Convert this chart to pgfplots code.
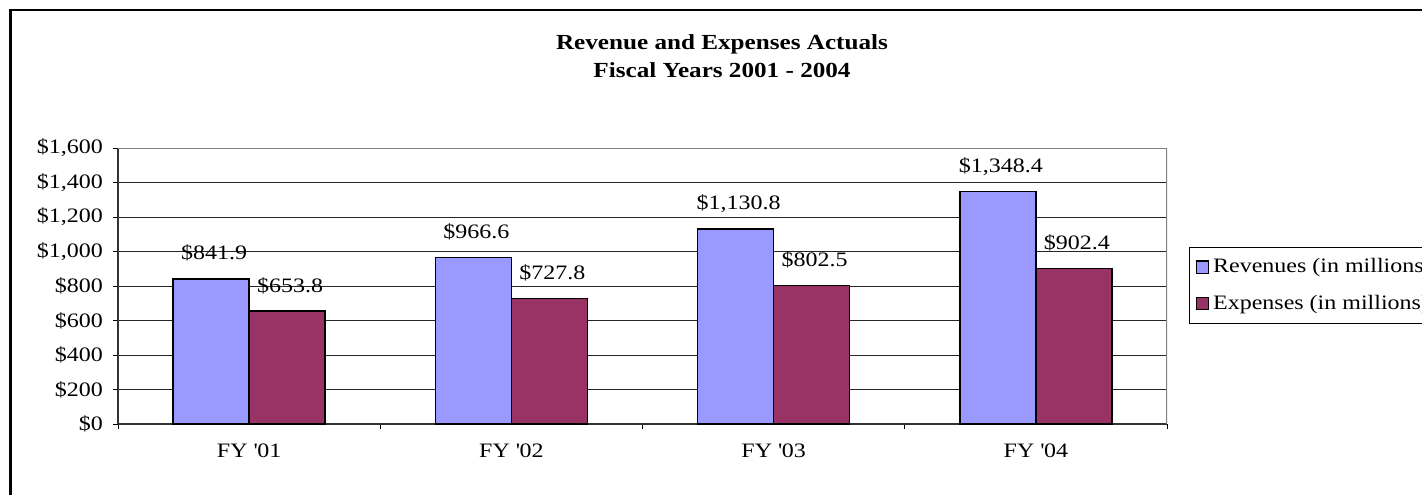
\documentclass[border=0pt]{standalone}
\usepackage{fontspec}
\setmainfont{Liberation Serif}[FakeStretch=1.17]
\usepackage{pgfplots}
\pgfplotsset{compat=1.18}
\definecolor{revcol}{HTML}{9999FF}
\definecolor{expcol}{HTML}{993366}
\newcommand{\chartfont}{\fontsize{10.25}{12}\selectfont}
\begin{document}
\begin{tikzpicture}
\begin{axis}[
    at={(59pt,35pt)}, anchor=south west,
    scale only axis, width=524.5pt, height=138pt,
    ybar=0pt, bar width=38pt,
    xmin=-0.5, xmax=3.5, ymin=0, ymax=1600,
    xtick={0,1,2,3},
    xticklabels={FY \textquotesingle01, FY \textquotesingle02, FY \textquotesingle03, FY \textquotesingle04},
    major x tick style={draw=none},
    minor xtick={-0.5,0.5,1.5,2.5,3.5},
    ytick={0,200,...,1600},
    tick align=outside, major tick length=2.5pt, minor tick length=2.5pt,
    tick style={black, line width=0.5pt},
    yticklabel={\$\pgfmathprintnumber[1000 sep={,},assume math mode=true]{\tick}},
    tick label style={font=\chartfont},
    xticklabel style={yshift=-4pt},
    yticklabel style={xshift=-1.5pt},
    axis lines*=left,
    axis line style={black!80, line width=0.6pt},
    ymajorgrids, grid style={black!85, line width=0.5pt},
    nodes near coords={\$\pgfmathprintnumber[fixed,fixed zerofill,precision=1,1000 sep={,},assume math mode=true]{\pgfplotspointmeta}},
    every node near coord/.append style={font=\chartfont, black, anchor=base, yshift=9.5pt, xshift=1.5pt},
    legend style={at={(1.021,0.641)}, anchor=north west, draw=black, line width=0.5pt,
        font=\chartfont, row sep=5.5pt, inner ysep=3.5pt, inner xsep=3pt},
    legend cell align=left,
    legend image code/.code={\draw[#1, draw=black, line width=0.6pt] (0pt,-3.1pt) rectangle (6.2pt,3.1pt);},
]
\addplot[fill=revcol, draw=black, line width=0.75pt] coordinates {
    (0, 841.9)
    (1, 966.6)
    (2, 1130.8)
    (3, 1348.4)
};
\addlegendentry{Revenues (in millions)}
\addplot[fill=expcol, draw=black, line width=0.75pt] coordinates {
    (0, 653.8)
    (1, 727.8)
    (2, 802.5)
    (3, 902.4)
};
\addlegendentry{Expenses (in millions)}
% gray plot-area border on top and right
\draw[gray, line width=0.75pt] (rel axis cs:0,1) -- (rel axis cs:1,1) -- (rel axis cs:1,0);
\end{axis}
\node[font=\bfseries\fontsize{10.75}{14}\selectfont, align=center] at (361pt,219pt)
    {Revenue and Expenses Actuals\\Fiscal Years 2001 - 2004};
\draw[line width=1.25pt] (5.25pt,-5pt) -- (5.25pt,242pt) -- (720pt,242pt);
\pgfresetboundingbox
\path[use as bounding box] (0,0) rectangle (711pt,247pt);
\end{tikzpicture}
\end{document}
